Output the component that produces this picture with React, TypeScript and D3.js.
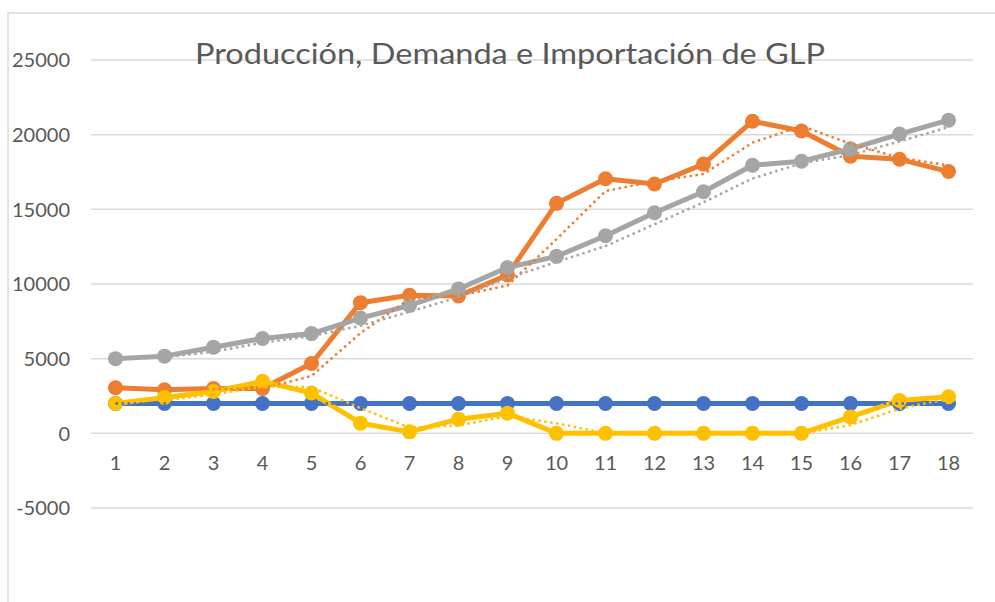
import * as d3 from 'd3';

const periods = d3.range(1, 19);
const yTicks = [-5000, 0, 5000, 10000, 15000, 20000, 25000];

// four series
const blueVals = [2000, 2000, 2000, 2000, 2000, 2000, 2000, 2000, 2000, 2000, 2000, 2000, 2000, 2000, 2000, 2000, 2000, 2000];
const orangeVals = [3050, 2920, 3000, 3000, 4680, 8750, 9250, 9200, 10600, 15400, 17050, 16700, 18030, 20900, 20250, 18550, 18350, 17530];
const grayVals = [5000, 5170, 5770, 6350, 6680, 7720, 8560, 9670, 11100, 11850, 13230, 14770, 16180, 17950, 18220, 19050, 20040, 20970];
const yellowVals = [2000, 2400, 2800, 3480, 2700, 680, 100, 950, 1350, 0, 0, 0, 0, 0, 0, 1100, 2200, 2450];

const series = [
  { name: 'blue', color: '#4472C4', values: blueVals, trend: 'linear' },
  { name: 'orange', color: '#ED7D31', values: orangeVals, trend: 'ma' },
  { name: 'gray', color: '#A5A5A5', values: grayVals, trend: 'ma' },
  { name: 'yellow', color: '#FFC000', values: yellowVals, trend: 'ma' },
];

const W = 995, H = 602;
const FONT = 'Lato, "Open Sans", sans-serif';
const TEXT = '#595959';

// trendline points: 2-period moving average, or least squares line
function trendPoints(values: number[], kind: string): [number, number][] {
  if (kind === 'ma') {
    return values.slice(1).map((v, i) => [i + 2, (values[i] + v) / 2]);
  }
  const xm = d3.mean(periods)!, ym = d3.mean(values)!;
  const slope = d3.sum(periods, (p, i) => (p - xm) * (values[i] - ym)) / d3.sum(periods, p => (p - xm) ** 2);
  return periods.map(p => [p, ym + slope * (p - xm)]);
}

export default function App() {
  const x = d3.scalePoint<number>().domain(periods).range([91, 973]).padding(0.5);
  const y = d3.scaleLinear().domain([-5000, 25000]).range([508, 60]);

  const line = d3.line<number>()
    .x((_, i) => x(periods[i])!)
    .y(v => y(v));

  const trendLine = d3.line<[number, number]>()
    .x(d => x(d[0])!)
    .y(d => y(d[1]));

  return (
    <svg width={W} height={H} style={{ position: 'absolute', left: 0, top: 0, background: '#fff' }}>
      <rect x={8} y={13} width={1100} height={800} fill="#fff" stroke="#d9d9d9" strokeWidth={1.5} />

      {/* grid */}
      {yTicks.map(t => (
        <line key={t} x1={91} x2={973} y1={y(t)} y2={y(t)} stroke="#d9d9d9" strokeWidth={1.5} />
      ))}

      {/* y labels */}
      {yTicks.map(t => (
        <text key={t} x={70} y={y(t)} dy="0.36em" textAnchor="end"
          fontFamily={FONT} fontSize={20} fill={TEXT}>{t}</text>
      ))}

      {/* x labels */}
      {periods.map(p => (
        <text key={p} x={x(p)} y={470} textAnchor="middle"
          fontFamily={FONT} fontSize={20} fill={TEXT}>{p}</text>
      ))}

      <text x={510} y={64} textAnchor="middle" fontFamily={FONT} fontSize={29} fill={TEXT}
        textLength={630} lengthAdjust="spacingAndGlyphs">
        Producción, Demanda e Importación de GLP
      </text>

      {series.map(s => (
        <g key={s.name}>
          <path d={line(s.values)!} fill="none" stroke={s.color} strokeWidth={5} strokeLinejoin="round" />
          {s.values.map((v, i) => (
            <circle key={i} cx={x(periods[i])} cy={y(v)} r={7.5} fill={s.color} />
          ))}
        </g>
      ))}

      {/* dotted trendlines on top */}
      {series.map(s => (
        <path key={s.name + '-trend'} d={trendLine(trendPoints(s.values, s.trend))!}
          fill="none" stroke={s.color} strokeWidth={2.5} strokeDasharray="2.5 3.5" />
      ))}
    </svg>
  );
}
